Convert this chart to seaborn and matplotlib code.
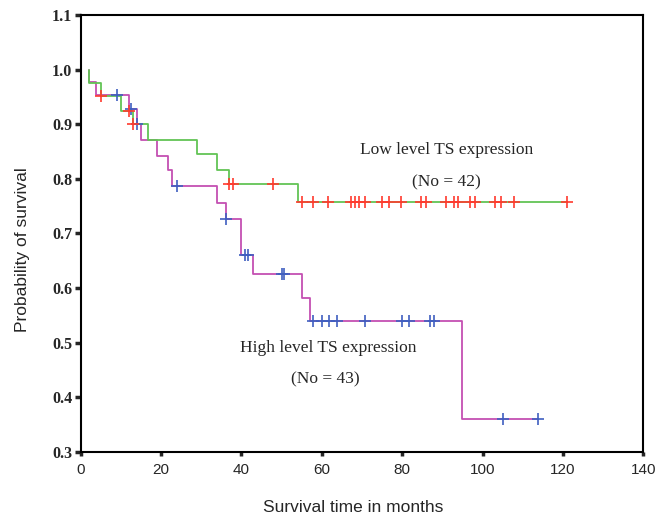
import numpy as np
import pandas as pd
import seaborn as sns
import matplotlib.pyplot as plt

# Kaplan-Meier step values (time in months, survival after that time)
low_times = [2.1, 2.1, 5.0, 10.0, 12.9, 16.8, 29.0, 34.0, 37.0, 54.0, 120.9]
low_surv = [1.0, 0.976, 0.951, 0.924, 0.900, 0.871, 0.845, 0.816, 0.790, 0.758, 0.758]

high_times = [2.1, 2.1, 3.7, 12.1, 14.0, 14.9, 18.9, 21.8, 22.8, 33.8, 36.1,
              40.0, 42.9, 55.0, 57.0, 94.8, 113.8]
high_surv = [1.0, 0.977, 0.953, 0.927, 0.900, 0.871, 0.842, 0.816, 0.787, 0.756, 0.726,
             0.660, 0.625, 0.582, 0.540, 0.360, 0.360]

# censored observations
low_cens_t = [5.0, 12.0, 12.9, 37.0, 37.8, 47.9, 55.1, 57.9, 61.6, 67.2, 68.2, 69.3,
              70.7, 74.9, 76.8, 79.7, 84.8, 85.9, 91.0, 92.9, 93.9, 97.0, 98.1,
              103.1, 104.7, 107.9, 120.9]
low_cens_s = [0.951, 0.924, 0.900, 0.790, 0.790, 0.790] + [0.758] * 21

high_cens_t = [9.0, 12.5, 14.0, 23.9, 36.1, 40.9, 41.7, 50.0, 50.6, 57.9, 60.0, 61.8,
               63.7, 70.7, 79.9, 81.7, 86.9, 88.0, 105.0, 113.8]
high_cens_s = [0.953, 0.927, 0.900, 0.787, 0.726, 0.660, 0.660, 0.625, 0.625,
               0.540, 0.540, 0.540, 0.540, 0.540, 0.540, 0.540, 0.540, 0.540,
               0.360, 0.360]

x_ticks = [0, 20, 40, 60, 80, 100, 120, 140]
y_ticks = [0.3, 0.4, 0.5, 0.6, 0.7, 0.8, 0.9, 1.0, 1.1]

sns.set_style("white")
plt.rcParams['font.family'] = ['Liberation Sans', 'DejaVu Sans']

fig = plt.figure(figsize=(6.57, 5.22), dpi=100)
ax = fig.add_axes([0.1228, 0.1347, 0.8563, 0.8366])

low_df = pd.DataFrame({'t': low_times, 's': low_surv})
high_df = pd.DataFrame({'t': high_times, 's': high_surv})

sns.lineplot(data=high_df, x='t', y='s', ax=ax, color='#c44fb2', linewidth=1.3,
             drawstyle='steps-post', estimator=None, sort=False)
sns.lineplot(data=low_df, x='t', y='s', ax=ax, color='#62c455', linewidth=1.3,
             drawstyle='steps-post', estimator=None, sort=False)

sns.scatterplot(x=high_cens_t, y=high_cens_s, ax=ax, marker='+', s=70,
                color='#3f5fc0', linewidth=1.2, zorder=4)
sns.scatterplot(x=low_cens_t, y=low_cens_s, ax=ax, marker='+', s=70,
                color='#ff3a2e', linewidth=1.2, zorder=4)

ax.set_xlim(0, 140)
ax.set_ylim(0.3, 1.1)
ax.set_xticks(x_ticks)
ax.set_yticks(y_ticks)
ax.set_xticklabels([str(v) for v in x_ticks], fontsize=11, family='Liberation Sans')
ax.set_yticklabels([f"{v:.1f}" for v in y_ticks], fontsize=11.5,
                   family='Liberation Serif', fontweight='bold')
ax.tick_params(axis='y', direction='out', length=4, width=2.5, pad=2, left=True)
ax.tick_params(axis='x', direction='out', length=3, width=2.5, pad=5, bottom=True)
for sp in ax.spines.values():
    sp.set_color('black')
    sp.set_linewidth(1.5)
ax.set_xlabel('')
ax.set_ylabel('')

serif = {'family': 'Liberation Serif', 'fontsize': 12.5, 'ha': 'center', 'va': 'center'}
ax.text(91.0, 0.853, 'Low level TS expression', **serif)
ax.text(91.0, 0.793, '(No = 42)', **serif)
ax.text(61.6, 0.490, 'High level TS expression', **serif)
ax.text(61.0, 0.432, '(No = 43)', **serif)

fig.text(353 / 657, 1 - 507 / 522, 'Survival time in months', ha='center', va='center',
         fontsize=12.5)
fig.text(23 / 657, 1 - 250 / 522, 'Probability of survival', ha='center', va='center',
         rotation=90, fontsize=12.5)

fig.savefig('out.png', dpi=100)
